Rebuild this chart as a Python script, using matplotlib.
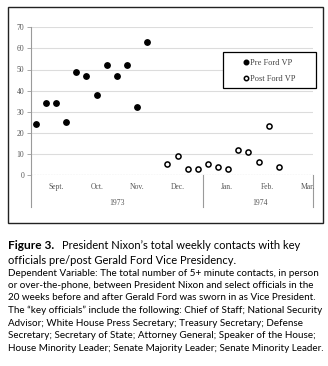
import matplotlib
matplotlib.use("Agg")
import matplotlib.pyplot as plt
from matplotlib.patches import Rectangle

# ---- data ----
pre_weeks = [0, 1, 2, 3, 4, 5, 6, 7, 8, 9, 10, 11]
pre_values = [24, 34, 34, 25, 49, 47, 38, 52, 47, 52, 32, 63]
post_weeks = [13, 14, 15, 16, 17, 18, 19, 20, 21, 22, 23, 24]
post_values = [5, 9, 3, 3, 5, 4, 3, 12, 11, 6, 23, 4]
month_labels = ["Sept.", "Oct.", "Nov.", "Dec.", "Jan.", "Feb.", "Mar."]
month_pos = [2.05, 6.05, 10.0, 14.0, 18.85, 22.9, 26.9]
year_labels = ["1973", "1974"]
year_pos = [8.0, 22.1]
year_bounds = [-0.46, 16.5, 27.4]
yticks = [0, 10, 20, 30, 40, 50, 60, 70]

W, H = 328, 366
fig = plt.figure(figsize=(W / 100, H / 100), dpi=100)

def fx(px):
    return px / W

def fy(py):
    return 1 - py / H

# outer frame
fig.patches.append(Rectangle((fx(7.5), fy(223)), fx(322.5) - fx(7.5), fy(7.5) - fy(223),
                             transform=fig.transFigure, fill=False, edgecolor="#222222",
                             linewidth=1.0))

ax_l, ax_r, ax_t, ax_b = 31.2, 313.3, 27.3, 175.0
ax = fig.add_axes([fx(ax_l), fy(ax_b), fx(ax_r) - fx(ax_l), fy(ax_t) - fy(ax_b)])
ax.set_xlim(year_bounds[0], year_bounds[-1])
ax.set_ylim(0, 70)
for s in ["top", "right", "bottom"]:
    ax.spines[s].set_visible(False)
ax.spines["left"].set_color("#9a9a9a")
ax.spines["left"].set_linewidth(0.8)

for v in yticks[1:]:
    ax.axhline(v, color="#dcdcdc", linewidth=0.8, zorder=0)
ax.axhline(0, color="#8a8a8a", linewidth=0.8, linestyle=(0, (1.5, 1.0)), zorder=1)

ax.set_yticks(yticks)
ax.set_yticklabels([str(v) for v in yticks], fontfamily="Liberation Serif",
                   fontsize=5.5, color="#555555")
ax.tick_params(axis="y", length=3, width=0.6, color="#9a9a9a", pad=2)
ax.set_xticks([])

# separators and labels below axis
for b in year_bounds:
    ax.plot([b, b], [0, -15.2], color="#9a9a9a", linewidth=0.8, clip_on=False)
for lab, p in zip(month_labels, month_pos):
    ax.text(p, -5.5, lab, ha="center", va="center", fontfamily="Liberation Serif",
            fontsize=5.5, color="#555555", clip_on=False)
for lab, p in zip(year_labels, year_pos):
    ax.text(p, -13.3, lab, ha="center", va="center", fontfamily="Liberation Serif",
            fontsize=5.5, color="#555555", clip_on=False)

ax.plot(pre_weeks, pre_values, linestyle="none", marker="o", markersize=3.9,
        markerfacecolor="black", markeredgecolor="black", label="Pre Ford VP", zorder=3)
ax.plot(post_weeks, post_values, linestyle="none", marker="o", markersize=3.7,
        markerfacecolor="white", markeredgecolor="black", markeredgewidth=1.1,
        label="Post Ford VP", zorder=3)

# legend box
lb_l, lb_r, lb_t, lb_b = 222.5, 316.0, 52.3, 88.3
ax.add_patch(Rectangle((fx(lb_l), fy(lb_b)), fx(lb_r) - fx(lb_l), fy(lb_t) - fy(lb_b),
                       transform=fig.transFigure, facecolor="white", clip_on=False,
                       edgecolor="black", linewidth=0.9, zorder=4))
leg = ax.legend(loc="center", bbox_to_anchor=(fx((lb_l + lb_r) / 2), fy((lb_t + lb_b) / 2 + 0.8)),
                bbox_transform=fig.transFigure, frameon=False,
                borderpad=0, labelspacing=0.95, handlelength=0.8, handletextpad=0.1,
                borderaxespad=0, markerscale=0.85,
                prop={"family": "Liberation Serif", "size": 6})
leg.set_zorder(5)
for t in leg.get_texts():
    t.set_color("#444444")

# caption
cap_font = "Lato"
fig.text(fx(8), fy(245.5), "Figure 3.", fontfamily=cap_font, fontweight="bold",
         fontsize=8.6, va="center", ha="left")
fig.text(fx(62.5), fy(245.5), "President Nixon\u2019s total weekly contacts with key",
         fontfamily=cap_font, fontsize=8.0, va="center", ha="left")
fig.text(fx(8), fy(261), "officials pre/post Gerald Ford Vice Presidency.",
         fontfamily=cap_font, fontsize=8.0, va="center", ha="left")
body = [
    "Dependent Variable: The total number of 5+ minute contacts, in person",
    "or over-the-phone, between President Nixon and select officials in the",
    "20 weeks before and after Gerald Ford was sworn in as Vice President.",
    "The \u201ckey officials\u201d include the following: Chief of Staff; National Security",
    "Advisor; White House Press Secretary; Treasury Secretary; Defense",
    "Secretary; Secretary of State; Attorney General; Speaker of the House;",
    "House Minority Leader; Senate Majority Leader; Senate Minority Leader.",
]
body_y = [273, 285.6, 298, 310.6, 323.2, 335.8, 348.4]
for line, y in zip(body, body_y):
    fig.text(fx(8), fy(y), line, fontfamily=cap_font, fontsize=7.1, va="center", ha="left")

fig.savefig("out.png", dpi=100)
